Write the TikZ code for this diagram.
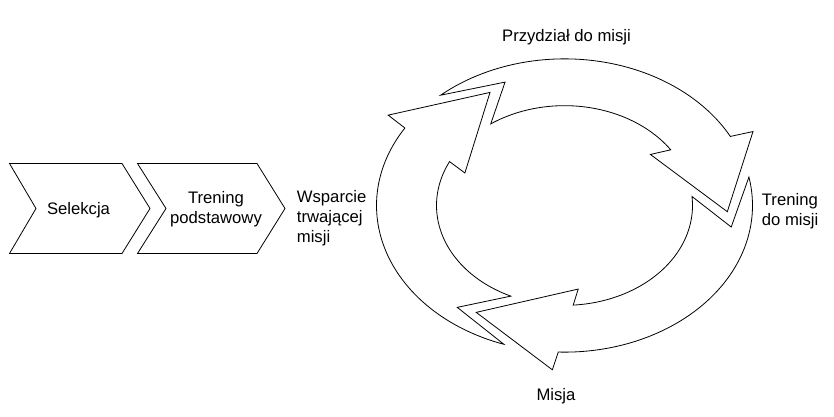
\documentclass[tikz,border=0pt]{standalone}
\usepackage{fontspec}
\setmainfont{Liberation Sans}
\newcommand\cyclearrow[1]{%
  \draw[ring] ({#1+134}:188) arc[start angle={#1+134}, end angle={#1+30.9}, radius=188]
    -- ({#1+29.5}:211) -- (#1:163) -- ({#1+40.1}:108) -- ({#1+36.7}:128)
    arc[start angle={#1+36.7}, end angle={#1+128}, radius=128]
    -- ({#1+113.4}:169) -- cycle;}
\begin{document}
\begin{tikzpicture}[x=0.75pt,y=-0.75pt,line width=0.6pt,line join=miter,
  lbl/.style={font=\fontsize{12.5}{15}\selectfont,inner sep=0pt},
  ring/.style={draw=black,fill=white}]
\useasboundingbox (0,0) rectangle (834,417);
% chevrons
\draw[ring] (9.5,163.5) -- (122,163.5) -- (150,208.5) -- (122,253.5) -- (9.5,253.5) -- (36,208.5) -- cycle;
\draw[ring] (137.5,163.5) -- (257,163.5) -- (285,208.5) -- (257,253.5) -- (137.5,253.5) -- (166,208.5) -- cycle;
\node[lbl] (sel) at (78.5,210) {Selekcja};
\node[lbl,align=center] (tp) at (216,209) {Trening\\podstawowy};
\node[lbl,align=left,anchor=west] (wtm) at (296.5,218) {Wsparcie\\trwającej\\misji};
% cycle
\begin{scope}[shift={(564.5,205.5)},yscale=-0.78]
\cyclearrow{117.2}
\cyclearrow{-2.8}
\cyclearrow{-122.8}
\end{scope}
\node[lbl] (pdm) at (566.5,37.5) {Przydział do misji};
\node[lbl,align=left,anchor=west] (tdm) at (761.5,211.5) {Trening\\do misji};
\node[lbl] (mis) at (556,396) {Misja};
\end{tikzpicture}
\end{document}
